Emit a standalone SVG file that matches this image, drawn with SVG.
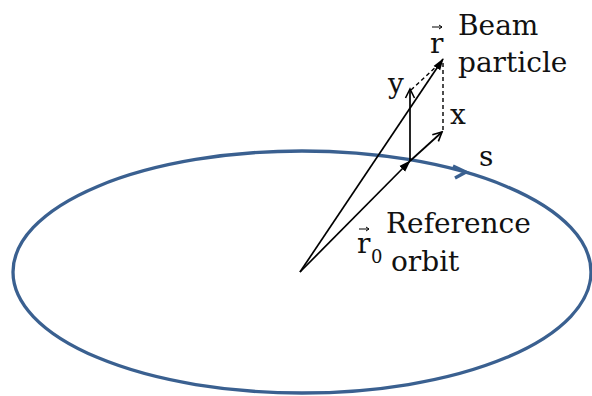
<svg xmlns="http://www.w3.org/2000/svg" width="592" height="396" viewBox="0 0 592 396">
<style>
.t{font-family:"DejaVu Serif","Liberation Serif",serif;font-size:28px;fill:#111}
.v{stroke:#000;stroke-width:1.7;fill:none}
.d{stroke:#000;stroke-width:1.4;fill:none;stroke-dasharray:4 3}
</style>
<defs>
<marker id="fill" markerWidth="12" markerHeight="12" refX="11" refY="6" orient="auto" markerUnits="userSpaceOnUse">
<path d="M0,2 L12,6 L0,10 Z" fill="#000"/>
</marker>
<marker id="open" markerWidth="12" markerHeight="12" refX="10" refY="6" orient="auto" markerUnits="userSpaceOnUse">
<path d="M1,1.5 L10,6 L1,10.5" fill="none" stroke="#000" stroke-width="1.6"/>
</marker>
</defs>
<g id="orbit">
<ellipse cx="302" cy="272" rx="289" ry="121" fill="none" stroke="#3A6090" stroke-width="3.3"/>
<path d="M453,166 L466,172 L455,178" fill="none" stroke="#3A6090" stroke-width="3.3"/>
</g>
<g id="connectors">
<line class="v" x1="300" y1="272" x2="410" y2="161" marker-end="url(#fill)"/>
<line class="v" x1="300" y1="272" x2="443" y2="59" marker-end="url(#fill)"/>
<line class="v" x1="410" y1="161" x2="410" y2="89" marker-end="url(#open)"/>
<line class="v" x1="410" y1="161" x2="442" y2="132" marker-end="url(#open)"/>
<line class="d" x1="443" y1="63" x2="443" y2="131"/>
<line class="d" x1="411" y1="90" x2="440" y2="63"/>
</g>
<g id="labels">
<text class="t" x="458" y="35">Beam</text>
<text class="t" x="458" y="72">particle</text>
<text class="t" x="430" y="53">r</text>
<path d="M432,27 L442,27 M439,25 L442,27 L439,29" fill="none" stroke="#000" stroke-width="1"/>
<text class="t" x="388" y="93">y</text>
<text class="t" x="450" y="124">x</text>
<text class="t" x="479" y="166">s</text>
<text class="t" x="386" y="233">Reference</text>
<text class="t" x="391" y="271">orbit</text>
<text class="t" x="357" y="253">r</text>
<text class="t" x="371" y="263" style="font-size:18px">0</text>
<path d="M359,229 L369,229 M366,227 L369,229 L366,231" fill="none" stroke="#000" stroke-width="1"/>
</g>
</svg>
